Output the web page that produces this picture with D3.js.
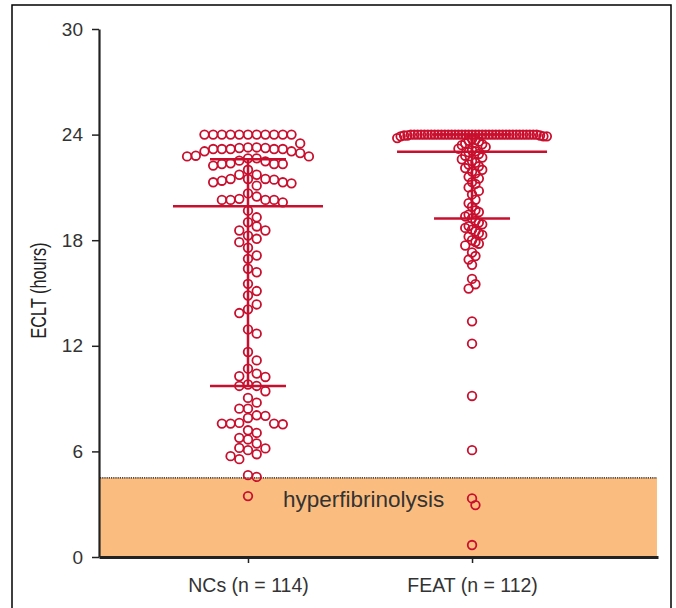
<!DOCTYPE html>
<html><head><meta charset="utf-8">
<script src="https://cdn.jsdelivr.net/npm/d3@7"></script>
<style>
body{margin:0;background:#fff}
text{font-family:"Liberation Sans",Arial,Helvetica,sans-serif}
</style>
</head><body>
<svg id="c" width="676" height="608"></svg>
<script>
// ---------- data ----------
const categories = ["NCs (n = 114)", "FEAT (n = 112)"];
const ncsValues = [
  24,24,24,24,24,24,24,24,24,24,24,
  23.5,23.27,23.27,23.24,23.24,23.18,23.18,23.18,23.18,23.18,23.05,23.05,22.95,
  22.8,22.76,22.76,22.65,22.65,
  22.52,22.48,22.37,22.33,22.33,22.33,22.24,22.0,
  21.72,21.72,21.48,21.48,21.48,21.44,21.38,21.29,21.29,21.23,21.1,
  20.66,20.48,20.35,20.29,20.29,20.29,20.29,20.15,
  19.68,19.3,19.02,18.78,18.55,18.55,18.26,18.08,
  17.89,17.57,17.13,16.94,16.38,16.18,15.52,15.11,14.86,14.35,14.07,13.86,12.93,12.69,
  11.65,11.17,10.7,10.42,10.27,10.23,9.8,9.72,9.72,9.42,9.04,8.77,8.43,8.43,8.05,8.02,
  7.9,7.62,7.58,7.58,7.58,7.54,7.2,7.05,6.77,6.68,6.45,6.2,6.17,6.07,5.84,5.73,5.56,
  4.65,4.55,3.46
];
const featValues = [
  24,24,24,24,24,24,24,24,24,24,24,24,24,24,24,24,24,24,24,
  24,24,24,24,24,24,24,24,24,24,24,24,24,24,24,24,24,24,24,
  23.95,23.95,23.95,23.9,23.9,23.9,
  23.8,23.75,23.7,23.65,23.6,23.5,23.45,23.4,
  23.3,23.2,23.1,23.05,
  23.0,22.9,22.8,22.7,22.6,22.5,22.4,22.3,22.2,22.1,22.0,21.9,21.8,21.6,
  21.5,21.3,21.2,21.0,20.8,20.6,20.3,20.1,19.9,19.7,19.6,19.45,19.35,19.25,
  19.1,19.0,18.9,18.8,18.7,18.6,18.5,18.4,18.3,18.2,18.0,17.9,17.8,17.7,
  17.3,17.1,16.9,16.6,15.8,15.5,15.25,13.39,12.12,9.15,6.07,3.33,2.95,0.68
];
const medians = [19.93, 23.03];
const q1 = [9.72, 19.23];
const q3 = [22.6, 24.0];
const yTicks = [0, 6, 12, 18, 24, 30];
const hyperThreshold = 4.5;
const yLabel = "ECLT (hours)";
const zoneLabel = "hyperfibrinolysis";

// ---------- setup ----------
const RED = "#c8102e";
const svg = d3.select("#c");
const y = d3.scaleLinear().domain([0, 30]).range([557, 29]);
const x = d3.scaleLinear().domain([-0.665, 1.83]).range([99, 658]);

// frame
svg.append("rect").attr("x", 12).attr("y", 5).attr("width", 659).attr("height", 650)
  .attr("fill", "none").attr("stroke", "#000").attr("stroke-width", 1.5);

// hyperfibrinolysis zone
svg.append("rect").attr("x", 100).attr("y", y(hyperThreshold))
  .attr("width", 557).attr("height", y(0) - y(hyperThreshold))
  .attr("fill", "#fbbd7f");
svg.append("line").attr("x1", 100).attr("x2", 657)
  .attr("y1", y(hyperThreshold)).attr("y2", y(hyperThreshold))
  .attr("stroke", "#111").attr("stroke-width", 1.2).attr("stroke-dasharray", "1.2,1");
svg.append("text").attr("x", 283).attr("y", 507).attr("font-size", 22.5)
  .attr("fill", "#333").text(zoneLabel);

// axes
const gy = svg.append("g").attr("transform", "translate(99,0)")
  .call(d3.axisLeft(y).tickValues(yTicks).tickSize(7).tickPadding(9).tickSizeOuter(0));
gy.select(".domain").attr("stroke", "#222").attr("stroke-width", 2.2);
gy.selectAll(".tick line").attr("stroke", "#222").attr("stroke-width", 1.5);
gy.selectAll(".tick text").attr("font-size", 19).attr("fill", "#333")
  .attr("font-family", "Liberation Sans, Arial, sans-serif");

const gx = svg.append("g").attr("transform", "translate(0,557)")
  .call(d3.axisBottom(x).tickValues([0, 1]).tickFormat(i => categories[i])
    .tickSize(6).tickPadding(15).tickSizeOuter(0));
gx.select(".domain").attr("stroke", "#222").attr("stroke-width", 3);
gx.selectAll(".tick line").attr("stroke", "#222").attr("stroke-width", 1.5);
gx.selectAll(".tick text").attr("font-size", 19.5).attr("fill", "#333")
  .attr("font-family", "Liberation Sans, Arial, sans-serif");

// y label (condensed)
svg.append("text").attr("transform", "translate(38.5,290.5) rotate(-90)")
  .attr("text-anchor", "middle").attr("dominant-baseline", "central")
  .attr("font-size", 22).attr("fill", "#222")
  .attr("textLength", 96).attr("lengthAdjust", "spacingAndGlyphs")
  .text(yLabel);

// ---------- swarm layout ----------
function swarm(vals, slotW, minGap, maxSlot) {
  const pts = vals.map(v => ({ v, py: y(v) })).sort((a, b) => a.py - b.py);
  const used = new Map();
  const order = [0];
  for (let k = 1; k <= maxSlot; k++) order.push(k, -k);
  pts.forEach(p => {
    let chosen = null, bestSlot = 0, bestGap = -1;
    for (const s of order) {
      const arr = used.get(s) || [];
      let gap = Infinity;
      arr.forEach(q => { gap = Math.min(gap, Math.abs(q - p.py)); });
      if (gap >= minGap) { chosen = s; break; }
      if (gap > bestGap) { bestGap = gap; bestSlot = s; }
    }
    if (chosen === null) chosen = bestSlot;
    if (!used.has(chosen)) used.set(chosen, []);
    used.get(chosen).push(p.py);
    p.dx = chosen * slotW;
  });
  return pts;
}

const groups = [
  { i: 0, pts: swarm(ncsValues, 8.7, 9, 9) },
  { i: 1, pts: swarm(featValues, 3.4, 10, 22) }
];

// summary lines
groups.forEach(g => {
  const cx = x(g.i);
  const gl = svg.append("g").attr("stroke", RED).attr("stroke-width", 2.5);
  gl.append("line").attr("x1", cx).attr("x2", cx).attr("y1", y(q3[g.i])).attr("y2", y(q1[g.i]));
  gl.append("line").attr("x1", cx - 75).attr("x2", cx + 75).attr("y1", y(medians[g.i])).attr("y2", y(medians[g.i]));
  [q1[g.i], q3[g.i]].forEach(q => {
    gl.append("line").attr("x1", cx - 38).attr("x2", cx + 38).attr("y1", y(q)).attr("y2", y(q));
  });
});

// points
groups.forEach(g => {
  const cx = x(g.i);
  svg.append("g").selectAll("circle").data(g.pts).join("circle")
    .attr("cx", d => cx + d.dx).attr("cy", d => d.py).attr("r", 4.3)
    .attr("fill", "none").attr("stroke", RED).attr("stroke-width", 1.8);
});
</script>
</body></html>
